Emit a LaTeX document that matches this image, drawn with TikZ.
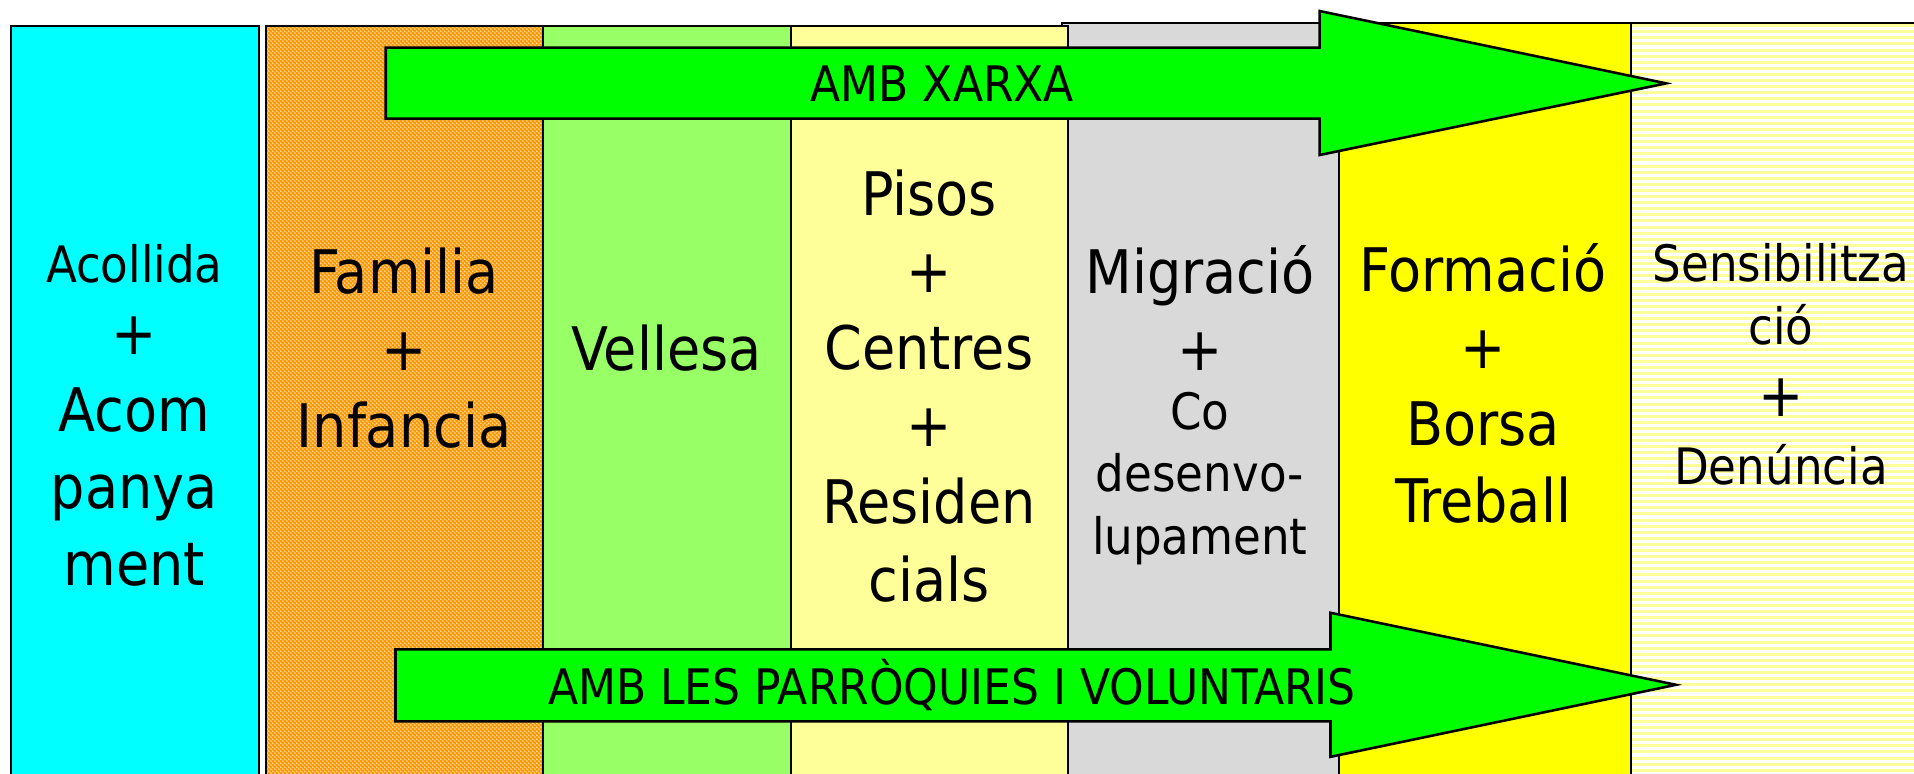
\documentclass[tikz,border=0pt]{standalone}
\usepackage{fontspec}
\setmainfont{DejaVu Sans Condensed}
\usetikzlibrary{patterns.meta}
\definecolor{aqua}{HTML}{00FFFF}
\definecolor{taronja}{HTML}{FF9900}
\definecolor{verdclar}{HTML}{99FF66}
\definecolor{grocclar}{HTML}{FFFF99}
\definecolor{gris}{HTML}{D9D9D9}
\definecolor{groc}{HTML}{FFFF00}
\definecolor{verd}{HTML}{00FF00}
\tikzdeclarepattern{
  name=puntets,
  bounding box={(0pt,0pt) and (0.9pt,0.9pt)},
  tile size={(0.9pt,0.9pt)},
  code={
    \fill (0.225pt,0.225pt) circle (0.2pt);
    \fill (0.675pt,0.675pt) circle (0.2pt);
  }
}
\begin{document}
\begin{tikzpicture}[x=0.1mm,y=-0.1mm,
    col/.style={draw=black,line width=0.5pt},
    fletxa/.style={draw=black,line width=0.6pt,fill=verd,line join=miter},
    gran/.style={align=center,inner sep=0pt,font=\fontsize{14}{18}\selectfont},
    petit/.style={align=center,inner sep=0pt,font=\fontsize{11.7}{14.6}\selectfont},
    rotul/.style={inner sep=0pt,font=\fontsize{11.4}{14}\selectfont},
    ratlla/.style={grocclar,line width=0.7pt}]
  \useasboundingbox (0,0) rectangle (1568,634);
  \clip (0,0) rectangle (1568,634);
  \filldraw[col,fill=aqua] (9,21.5) rectangle (212,660);
  \fill[taronja] (218,21.5) rectangle (445,660);
  \fill[pattern=puntets,pattern color=white!80!taronja] (218,21.5) rectangle (445,660);
  \draw[col] (218,21.5) rectangle (445,660);
  \filldraw[col,fill=verdclar] (445,21.5) rectangle (648,660);
  \filldraw[col,fill=gris] (870,19) rectangle (1097,660);
  \filldraw[col,fill=grocclar] (648,21.5) rectangle (875,660);
  \filldraw[col,fill=groc] (1097,19) rectangle (1336,660);
  \fill[white] (1336,19) rectangle (1600,660);
  \foreach \y in {21,26,...,640}
    \draw[ratlla] (1336,\y) -- (1600,\y);
  \draw[col] (1336,19) rectangle (1600,660);

  \node[petit] (acollida) at (110,216) {Acollida};
  \node[gran] (acompanyament) at (110,370) {+\\Acom\\panya\\ment};
  \node[gran] (familia) at (331,285) {Familia\\+\\Infancia};
  \node[gran] (vellesa) at (546,285) {Vellesa};
  \node[gran] (pisos) at (761,316) {Pisos\\+\\Centres\\+\\Residen\\cials};
  \node[gran] (migracio) at (983,252) {Migració\\+};
  \node[petit] (codesenv) at (983,392) {Co\\desenvo-\\lupament};
  \node[gran] (formacio) at (1215,314) {Formació\\+\\Borsa\\Treball};
  \node[petit] (sensib) at (1459,241) {Sensibilitza\\ció};
  \node[gran] (mes) at (1459,326) {+};
  \node[petit] (denuncia) at (1459,381) {Denúncia};

  \draw[fletxa] (316,39) -- (1081,39) -- (1081,9) -- (1365,68.3) -- (1081,127) -- (1081,97.2) -- (316,97.2) -- cycle;
  \node[rotul] (xarxa) at (772,68.3) {AMB XARXA};
  \draw[fletxa] (324,532) -- (1090,532) -- (1090,502) -- (1373,561) -- (1090,620) -- (1090,591) -- (324,591) -- cycle;
  \node[rotul] (parroquies) at (780,561) {AMB LES PARRÒQUIES I VOLUNTARIS};
\end{tikzpicture}
\end{document}
